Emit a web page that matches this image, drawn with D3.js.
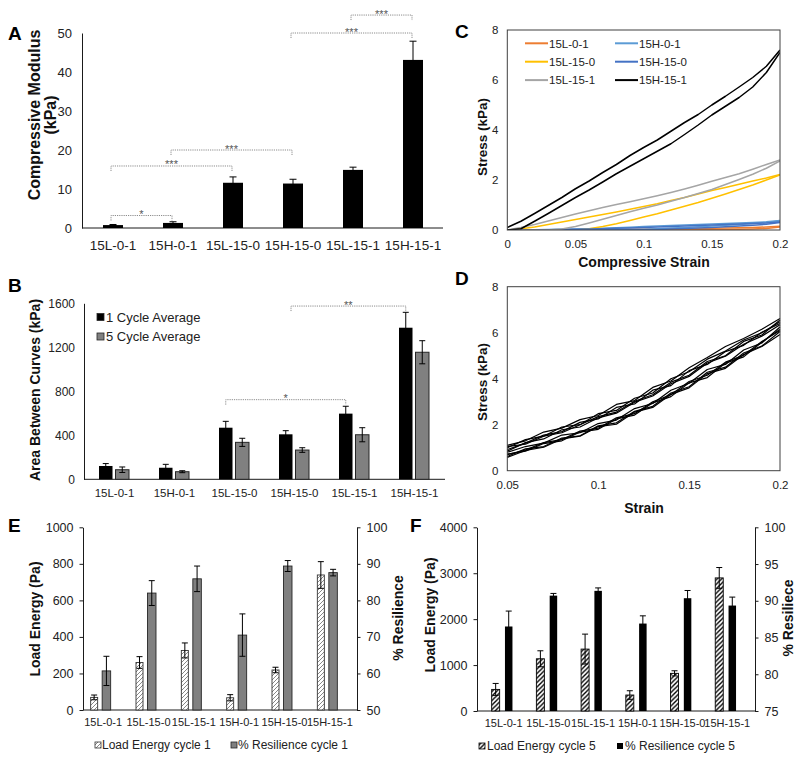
<!DOCTYPE html>
<html><head><meta charset="utf-8">
<script src="https://cdn.jsdelivr.net/npm/d3@7"></script>
<style>body{margin:0;background:#fff}</style>
</head><body><svg id="fig" width="800" height="758"></svg>
<script>
// ---------------- DATA ----------------
// Panel A
const catsAB = ["15L-0-1","15H-0-1","15L-15-0","15H-15-0","15L-15-1","15H-15-1"];
const modulus = [0.75, 1.3, 11.6, 11.4, 14.9, 43.1];
const modulusErr = [0.15, 0.3, 1.5, 1.1, 0.7, 4.8];
const ticksA = [0,10,20,30,40,50];
const bracketsA = [
  {from:"15L-0-1", to:"15H-0-1", y:3.2, label:"*"},
  {from:"15L-0-1", to:"15L-15-0", y:15.9, label:"***"},
  {from:"15H-0-1", to:"15H-15-0", y:20.0, label:"***"},
  {from:"15H-15-0", to:"15H-15-1", y:50.0, label:"***"},
  {from:"15L-15-1", to:"15H-15-1", y:54.6, label:"***"}
];
// Panel B
const cycle1Avg = [121, 105, 469, 409, 597, 1378];
const cycle1Err = [22, 31, 58, 33, 67, 140];
const cycle5Avg = [87, 69, 336, 266, 405, 1155];
const cycle5Err = [25, 9, 37, 21, 64, 105];
const ticksB = [0,400,800,1200,1600];
const legendB = ["1 Cycle Average","5 Cycle Average"];
const bracketsB = [
  {from:"15L-15-0", to:"15L-15-1", y:724, label:"*"},
  {from:"15H-15-0", to:"15H-15-1", y:1575, label:"**"}
];
// Panel C
const seriesC = ["15L-0-1","15H-0-1","15L-15-0","15H-15-0","15L-15-1","15H-15-1"];
const strainC = [0,0.01,0.02,0.03,0.04,0.05,0.06,0.07,0.08,0.09,0.10,0.11,0.12,0.13,0.14,0.15,0.16,0.17,0.18,0.19,0.20];
const loadC = [
  [0,0,0,0,0,0.01,0.01,0.02,0.02,0.03,0.03,0.04,0.05,0.05,0.06,0.07,0.08,0.09,0.10,0.12,0.15],
  [0,0,0.01,0.02,0.03,0.04,0.05,0.07,0.09,0.11,0.14,0.16,0.18,0.20,0.22,0.24,0.26,0.28,0.30,0.33,0.38],
  [0,0.05,0.12,0.22,0.32,0.42,0.52,0.62,0.72,0.83,0.94,1.05,1.18,1.30,1.44,1.58,1.70,1.83,1.96,2.08,2.22],
  [0,0,0,0.01,0.02,0.03,0.04,0.05,0.07,0.08,0.10,0.12,0.14,0.16,0.18,0.20,0.22,0.24,0.26,0.28,0.32],
  [0,0.10,0.22,0.36,0.50,0.64,0.77,0.90,1.02,1.13,1.25,1.37,1.50,1.64,1.79,1.95,2.10,2.25,2.43,2.62,2.80],
  [0.10,0.35,0.66,0.98,1.30,1.65,1.96,2.30,2.62,2.98,3.30,3.60,3.95,4.30,4.62,5.00,5.35,5.72,6.10,6.55,7.20]
];
const unloadC = [
  [0,0,0,0,0,0,0,0,0,0,0,0,0,0.01,0.01,0.02,0.02,0.03,0.04,0.06,0.12],
  [0,0,0,0,0,0,0,0,0.01,0.02,0.03,0.05,0.08,0.10,0.13,0.16,0.19,0.22,0.26,0.30,0.36],
  [0,0,0,0,0,0,0.05,0.14,0.25,0.38,0.52,0.65,0.80,0.95,1.10,1.27,1.44,1.62,1.80,2.00,2.20],
  [0,0,0,0,0,0,0,0,0,0,0.01,0.02,0.04,0.06,0.08,0.10,0.13,0.16,0.19,0.23,0.30],
  [0,0,0,0,0.04,0.14,0.28,0.43,0.58,0.73,0.87,1.00,1.15,1.30,1.46,1.62,1.82,2.02,2.23,2.47,2.76],
  [0,0.05,0.35,0.66,0.98,1.30,1.60,1.92,2.25,2.55,2.85,3.15,3.45,3.82,4.20,4.60,4.95,5.30,5.72,6.30,7.10]
];
const ticksCx = [0,0.05,0.1,0.15,0.2];
const ticksStress = [0,2,4,6,8];
// Panel D
const strainD = [0.05,0.06,0.07,0.08,0.09,0.10,0.11,0.12,0.13,0.14,0.15,0.16,0.17,0.18,0.19,0.20];
const loadD = [
  [1.10,1.30,1.68,1.85,2.22,2.40,2.88,3.05,3.62,3.90,4.48,4.92,5.40,5.75,6.15,6.62],
  [1.00,1.35,1.50,1.90,2.00,2.48,2.62,3.15,3.38,4.00,4.30,4.85,5.20,5.68,6.00,6.48],
  [0.92,1.20,1.55,1.70,2.10,2.25,2.75,2.90,3.50,3.70,4.35,4.62,5.18,5.45,6.02,6.40],
  [1.05,1.15,1.50,1.65,2.00,2.35,2.55,3.02,3.30,3.85,4.15,4.75,5.00,5.62,5.90,6.55],
  [0.85,1.22,1.38,1.78,1.90,2.30,2.50,2.98,3.25,3.78,4.10,4.68,4.98,5.50,5.85,6.35]
];
const unloadD = [
  [0.80,1.05,1.20,1.55,1.65,2.05,2.20,2.70,2.92,3.50,3.80,4.40,4.62,5.25,5.55,6.25],
  [0.70,0.90,1.22,1.35,1.72,1.85,2.30,2.48,3.00,3.30,3.88,4.15,4.72,5.02,5.62,6.10],
  [0.62,0.95,1.05,1.42,1.52,1.95,2.08,2.58,2.80,3.38,3.65,4.28,4.50,5.12,5.42,6.05],
  [0.72,0.85,1.18,1.30,1.68,1.80,2.25,2.42,2.95,3.22,3.82,4.05,4.68,4.95,5.58,6.15],
  [0.58,0.88,1.02,1.38,1.50,1.92,2.02,2.55,2.75,3.32,3.60,4.22,4.45,5.05,5.40,5.92]
];
const ticksDx = [0.05,0.1,0.15,0.2];
// Panels E, F
const catsEF = ["15L-0-1","15L-15-0","15L-15-1","15H-0-1","15H-15-0","15H-15-1"];
const loadEnergy1 = [69, 260, 326, 67, 219, 739];
const loadEnergy1Err = [13, 32, 41, 17, 15, 73];
const resilience1 = [60.7, 82.0, 85.9, 70.5, 89.4, 87.6];
const resilience1Err = [4.0, 3.4, 3.5, 5.8, 1.5, 0.9];
const loadEnergy5 = [470, 1137, 1348, 348, 820, 2898];
const loadEnergy5Err = [130, 174, 326, 93, 56, 226];
const resilience5 = [86.5, 90.7, 91.35, 86.9, 90.35, 89.35];
const resilience5Err = [2.1, 0.3, 0.4, 1.05, 1.05, 1.15];
const ticksEl = [0,200,400,600,800,1000];
const ticksEr = [50,60,70,80,90,100];
const ticksFl = [0,1000,2000,3000,4000];
const ticksFr = [75,80,85,90,95,100];
const legendE = ["Load Energy cycle 1","% Resilience cycle 1"];
const legendF = ["Load Energy cycle 5","% Resilience cycle 5"];

// ---------------- DRAWING ----------------
const FONT = '"Liberation Sans", Arial, Helvetica, sans-serif';
const INK = "#1a1a1a";
const svg = d3.select("#fig").attr("font-family", FONT);
svg.append("rect").attr("width",800).attr("height",758).attr("fill","#fff");
const defs = svg.append("defs");
const pE = defs.append("pattern").attr("id","hatchE").attr("patternUnits","userSpaceOnUse").attr("width",4).attr("height",4);
pE.append("rect").attr("width",4).attr("height",4).attr("fill","#fff");
pE.append("path").attr("d","M0,4 L4,0 M-1,1 L1,-1 M3,5 L5,3").attr("stroke","#7a7a7a").attr("stroke-width",0.9);
const pF = defs.append("pattern").attr("id","hatchF").attr("patternUnits","userSpaceOnUse").attr("width",4.5).attr("height",4.5);
pF.append("rect").attr("width",4.5).attr("height",4.5).attr("fill","#fff");
pF.append("path").attr("d","M0,4.5 L4.5,0 M-1,1 L1,-1 M3.5,5.5 L5.5,3.5").attr("stroke","#000").attr("stroke-width",1.4);

function leftAxis(x, scale, ticks, fs, pad, tick, fmt) {
  const ax = d3.axisLeft(scale).tickValues(ticks).tickSize(tick).tickSizeOuter(0).tickPadding(pad)
    .tickFormat(fmt || (d => String(d)));
  const g = svg.append("g").attr("transform",`translate(${x},0)`).call(ax);
  g.attr("font-size",fs).attr("font-family",FONT);
  g.selectAll("text").attr("fill","#222");
  g.select(".domain").attr("stroke",INK);
  g.selectAll(".tick line").attr("stroke",INK);
  return g;
}
function rightAxis(x, scale, ticks, fs, pad, tick) {
  const ax = d3.axisRight(scale).tickValues(ticks).tickSize(tick).tickSizeOuter(0).tickPadding(pad).tickFormat(d=>String(d));
  const g = svg.append("g").attr("transform",`translate(${x},0)`).call(ax);
  g.attr("font-size",fs).attr("font-family",FONT);
  g.selectAll("text").attr("fill","#222");
  g.select(".domain").attr("stroke",INK);
  g.selectAll(".tick line").attr("stroke",INK);
  return g;
}
function bottomLabels(y, scale, fs, pad, shift) {
  const ax = d3.axisBottom(scale).tickSize(0).tickPadding(pad).tickFormat(d=>String(d));
  const g = svg.append("g").attr("transform",`translate(${shift||0},${y})`).call(ax);
  g.attr("font-size",fs).attr("font-family",FONT);
  g.select(".domain").remove();
  g.selectAll("text").attr("fill","#222");
  return g;
}
function hline(x1, x2, y) {
  svg.append("line").attr("x1",x1).attr("x2",x2).attr("y1",y).attr("y2",y).attr("stroke",INK).attr("stroke-width",1);
}
function errBar(x, yTop, yBot, cap) {
  const g = svg.append("g").attr("stroke","#000").attr("stroke-width",1);
  g.append("line").attr("x1",x).attr("x2",x).attr("y1",yTop).attr("y2",yBot);
  g.append("line").attr("x1",x-cap/2).attr("x2",x+cap/2).attr("y1",yTop).attr("y2",yTop);
  g.append("line").attr("x1",x-cap/2).attr("x2",x+cap/2).attr("y1",yBot).attr("y2",yBot);
}
function rotLabel(cx, cy, txt, fs, weight) {
  svg.append("text").attr("transform",`translate(${cx + fs*0.35},${cy}) rotate(-90)`)
    .attr("text-anchor","middle").attr("font-size",fs).attr("font-weight",weight||"bold").attr("fill","#111").text(txt);
}
function letter(x, y, t) {
  svg.append("text").attr("x",x).attr("y",y).attr("font-size",19).attr("font-weight","bold").attr("fill","#000").text(t);
}
function bracket(x1, x2, y, label) {
  svg.append("path").attr("d",`M${x1},${y+5}V${y}H${x2}V${y+5}`).attr("fill","none")
    .attr("stroke","#8c8c8c").attr("stroke-width",1).attr("stroke-dasharray","1.2,1");
  svg.append("text").attr("x",(x1+x2)/2).attr("y",y+2.5).attr("text-anchor","middle")
    .attr("font-size",11).attr("fill","#555").text(label);
}

// ===== Panel A =====
letter(8, 40, "A");
const xA = d3.scaleBand().domain(catsAB).range([83, 443]);
const yA = d3.scaleLinear().domain([0,50]).range([228, 33]);
leftAxis(82, yA, ticksA, 13, 10, 0);
hline(82, 443, 228);
bottomLabels(228, xA, 13.5, 12);
catsAB.forEach((c,i) => {
  const cx = xA(c) + xA.bandwidth()/2;
  errBar(cx, yA(modulus[i]+modulusErr[i]), yA(modulus[i]-modulusErr[i]), 7);
  svg.append("rect").attr("x",cx-10).attr("width",20).attr("y",yA(modulus[i])).attr("height",yA(0)-yA(modulus[i])).attr("fill","#000");
});
bracketsA.forEach(b => {
  const x1 = xA(b.from) + xA.bandwidth()/2 - 2, x2 = xA(b.to) + xA.bandwidth()/2 - 1;
  bracket(x1, x2, yA(b.y), b.label);
});
rotLabel(34, 115, "Compressive Modulus", 16);
rotLabel(50, 115, "(kPa)", 16);

// ===== Panel B =====
letter(8, 292, "B");
const xB = d3.scaleBand().domain(catsAB).range([84.5, 444.5]);
const yB = d3.scaleLinear().domain([0,1600]).range([479.3, 303.3]);
leftAxis(84, yB, ticksB, 12, 9, 0);
hline(84, 445, 479.3);
bottomLabels(479.3, xB, 11.5, 10);
catsAB.forEach((c,i) => {
  const cx = xB(c) + xB.bandwidth()/2;
  const xb = cx - 15.5, xg = cx + 1, w = 13.5;
  svg.append("rect").attr("x",xb).attr("width",w).attr("y",yB(cycle1Avg[i])).attr("height",yB(0)-yB(cycle1Avg[i])).attr("fill","#000");
  errBar(xb + w/2, yB(cycle1Avg[i]+cycle1Err[i]), yB(cycle1Avg[i]-cycle1Err[i]), 6);
  svg.append("rect").attr("x",xg).attr("width",w).attr("y",yB(cycle5Avg[i])).attr("height",yB(0)-yB(cycle5Avg[i])).attr("fill","#808080").attr("stroke","#262626").attr("stroke-width",1);
  errBar(xg + w/2, yB(cycle5Avg[i]+cycle5Err[i]), yB(cycle5Avg[i]-cycle5Err[i]), 6);
});
bracketsB.forEach((b,k) => {
  const x1 = xB(b.from) + xB.bandwidth()/2 - (k===1 ? 3.5 : 8.75), x2 = xB(b.to) + xB.bandwidth()/2 - 8.75;
  bracket(x1, x2, yB(b.y), b.label);
});
legendB.forEach((t,i) => {
  const y = 317 + i*19.5;
  svg.append("rect").attr("x",97).attr("y",y-3.5).attr("width",7).attr("height",7)
    .attr("fill", i===0 ? "#000" : "#808080").attr("stroke","#262626").attr("stroke-width",0.8);
  svg.append("text").attr("x",106).attr("y",y+4.5).attr("font-size",13).attr("fill","#222").text(t);
});
rotLabel(35, 390, "Area Between Curves (kPa)", 14);

// ===== Panel C =====
letter(455, 38, "C");
const colorsC = ["#ED7D31","#5B9BD5","#FFC000","#4472C4","#A5A5A5","#000000"];
const xC = d3.scaleLinear().domain([0,0.2]).range([507.3, 780]);
const yC = d3.scaleLinear().domain([0,8]).range([230, 30]);
defs.append("clipPath").attr("id","clipC").append("rect").attr("x",507.3).attr("y",30).attr("width",780-507.3).attr("height",200);
const lineC = d3.line().x((d,i)=>xC(strainC[i])).y(d=>yC(d));
const gC = svg.append("g").attr("clip-path","url(#clipC)");
seriesC.forEach((s,k) => {
  gC.append("path").attr("d",lineC(loadC[k])).attr("fill","none").attr("stroke",colorsC[k]).attr("stroke-width",1.5).attr("stroke-linejoin","round");
  gC.append("path").attr("d",lineC(unloadC[k])).attr("fill","none").attr("stroke",colorsC[k]).attr("stroke-width",1.5).attr("stroke-linejoin","round");
});
svg.append("rect").attr("x",507.3).attr("y",30).attr("width",780-507.3).attr("height",200).attr("fill","none").attr("stroke","#404040").attr("stroke-width",1);
const axCy = leftAxis(507.3, yC, ticksStress, 11.5, 9, 0); axCy.select(".domain").remove();
const axCx = svg.append("g").attr("transform","translate(0,230)").call(d3.axisBottom(xC).tickValues(ticksCx).tickSize(0).tickPadding(10).tickFormat(d=>String(d)));
axCx.attr("font-size",11.5).attr("font-family",FONT); axCx.select(".domain").remove(); axCx.selectAll("text").attr("fill","#222");
seriesC.forEach((s,k) => {
  const col = k % 2, row = Math.floor(k/2);
  const lx = 525 + col*90, ly = 43.3 + row*18.4;
  svg.append("line").attr("x1",lx).attr("x2",lx+23).attr("y1",ly).attr("y2",ly).attr("stroke",colorsC[k]).attr("stroke-width",2);
  svg.append("text").attr("x",lx+24).attr("y",ly+4.2).attr("font-size",11.5).attr("fill","#222").text(s);
});
rotLabel(482, 137, "Stress (kPa)", 13.5);
svg.append("text").attr("x",644).attr("y",267).attr("text-anchor","middle").attr("font-size",14).attr("font-weight","bold").attr("fill","#111").text("Compressive Strain");

// ===== Panel D =====
letter(455, 285, "D");
const xD = d3.scaleLinear().domain([0.05,0.2]).range([507.3, 780]);
const yD = d3.scaleLinear().domain([0,8]).range([470.7, 286.7]);
const lineD = d3.line().x((d,i)=>xD(strainD[i])).y(d=>yD(d));
loadD.forEach((arr,k) => {
  svg.append("path").attr("d",lineD(arr)).attr("fill","none").attr("stroke","#000").attr("stroke-width",1.2).attr("stroke-linejoin","round");
  svg.append("path").attr("d",lineD(unloadD[k])).attr("fill","none").attr("stroke","#000").attr("stroke-width",1.2).attr("stroke-linejoin","round");
});
svg.append("rect").attr("x",507.3).attr("y",286.7).attr("width",780-507.3).attr("height",184).attr("fill","none").attr("stroke","#404040").attr("stroke-width",1);
const axDy = leftAxis(507.3, yD, ticksStress, 11.5, 9, 0); axDy.select(".domain").remove();
const axDx = svg.append("g").attr("transform","translate(0,470.7)").call(d3.axisBottom(xD).tickValues(ticksDx).tickSize(0).tickPadding(10).tickFormat(d=>String(d)));
axDx.attr("font-size",11.5).attr("font-family",FONT); axDx.select(".domain").remove(); axDx.selectAll("text").attr("fill","#222");
rotLabel(482, 382, "Stress (kPa)", 13.5);
svg.append("text").attr("x",644).attr("y",513).attr("text-anchor","middle").attr("font-size",14).attr("font-weight","bold").attr("fill","#111").text("Strain");

// ===== Panel E =====
letter(8, 532, "E");
const xE = d3.scaleBand().domain(catsEF).range([78, 350]);
const yE = d3.scaleLinear().domain([0,1000]).range([710, 527.3]);
const yE2 = d3.scaleLinear().domain([50,100]).range([710, 527.3]);
leftAxis(83, yE, ticksEl, 12.5, 6, 3.5);
rightAxis(357, yE2, ticksEr, 12.5, 6, 3.5);
hline(83, 357, 710);
bottomLabels(710, xE, 11, 8, 2.5);
catsEF.forEach((c,i) => {
  const cx = xE(c) + xE.bandwidth()/2;
  svg.append("rect").attr("x",cx-10).attr("width",7).attr("y",yE(loadEnergy1[i])).attr("height",yE(0)-yE(loadEnergy1[i]))
    .attr("fill","url(#hatchE)").attr("stroke","#333").attr("stroke-width",0.9);
  errBar(cx-6.5, yE(loadEnergy1[i]+loadEnergy1Err[i]), yE(loadEnergy1[i]-loadEnergy1Err[i]), 6);
  svg.append("rect").attr("x",cx+1.5).attr("width",8.5).attr("y",yE2(resilience1[i])).attr("height",yE2(50)-yE2(resilience1[i]))
    .attr("fill","#808080").attr("stroke","#262626").attr("stroke-width",0.9);
  errBar(cx+5.75, yE2(resilience1[i]+resilience1Err[i]), yE2(resilience1[i]-resilience1Err[i]), 6);
});
svg.append("rect").attr("x",95).attr("y",742).attr("width",6).attr("height",6).attr("fill","url(#hatchE)").attr("stroke","#333").attr("stroke-width",0.8);
svg.append("text").attr("x",102).attr("y",749).attr("font-size",12).attr("fill","#222").text(legendE[0]);
svg.append("rect").attr("x",231).attr("y",742).attr("width",6).attr("height",6).attr("fill","#808080").attr("stroke","#262626").attr("stroke-width",0.8);
svg.append("text").attr("x",238).attr("y",749).attr("font-size",12).attr("fill","#222").text(legendE[1]);
rotLabel(35, 619, "Load Energy (Pa)", 14);
rotLabel(398, 618, "% Resilience", 14);

// ===== Panel F =====
letter(410, 532, "F");
const xF = d3.scaleBand().domain(catsEF).range([479.3, 747.6]);
const yF = d3.scaleLinear().domain([0,4000]).range([711, 527.3]);
const yF2 = d3.scaleLinear().domain([75,100]).range([711, 527.3]);
leftAxis(477, yF, ticksFl, 12.5, 6, 3.5);
rightAxis(755, yF2, ticksFr, 12.5, 6, 3.5);
hline(477, 755, 711);
bottomLabels(711, xF, 11, 8, 2);
catsEF.forEach((c,i) => {
  const cx = xF(c) + xF.bandwidth()/2;
  svg.append("rect").attr("x",cx-10).attr("width",8).attr("y",yF(loadEnergy5[i])).attr("height",yF(0)-yF(loadEnergy5[i]))
    .attr("fill","url(#hatchF)").attr("stroke","#000").attr("stroke-width",0.9);
  errBar(cx-6, yF(loadEnergy5[i]+loadEnergy5Err[i]), yF(loadEnergy5[i]-loadEnergy5Err[i]), 6);
  svg.append("rect").attr("x",cx+3.3).attr("width",7.5).attr("y",yF2(resilience5[i])).attr("height",yF2(75)-yF2(resilience5[i]))
    .attr("fill","#000");
  errBar(cx+7.05, yF2(resilience5[i]+resilience5Err[i]), yF2(resilience5[i]-resilience5Err[i]), 6);
});
svg.append("rect").attr("x",479).attr("y",743).attr("width",6).attr("height",6).attr("fill","url(#hatchF)").attr("stroke","#000").attr("stroke-width",0.8);
svg.append("text").attr("x",487).attr("y",750).attr("font-size",12).attr("fill","#222").text(legendF[0]);
svg.append("rect").attr("x",617).attr("y",743).attr("width",6).attr("height",6).attr("fill","#000");
svg.append("text").attr("x",625).attr("y",750).attr("font-size",12).attr("fill","#222").text(legendF[1]);
rotLabel(430, 615, "Load Energy (Pa)", 14);
rotLabel(788, 618, "% Resiliece", 14);
</script></body></html>
